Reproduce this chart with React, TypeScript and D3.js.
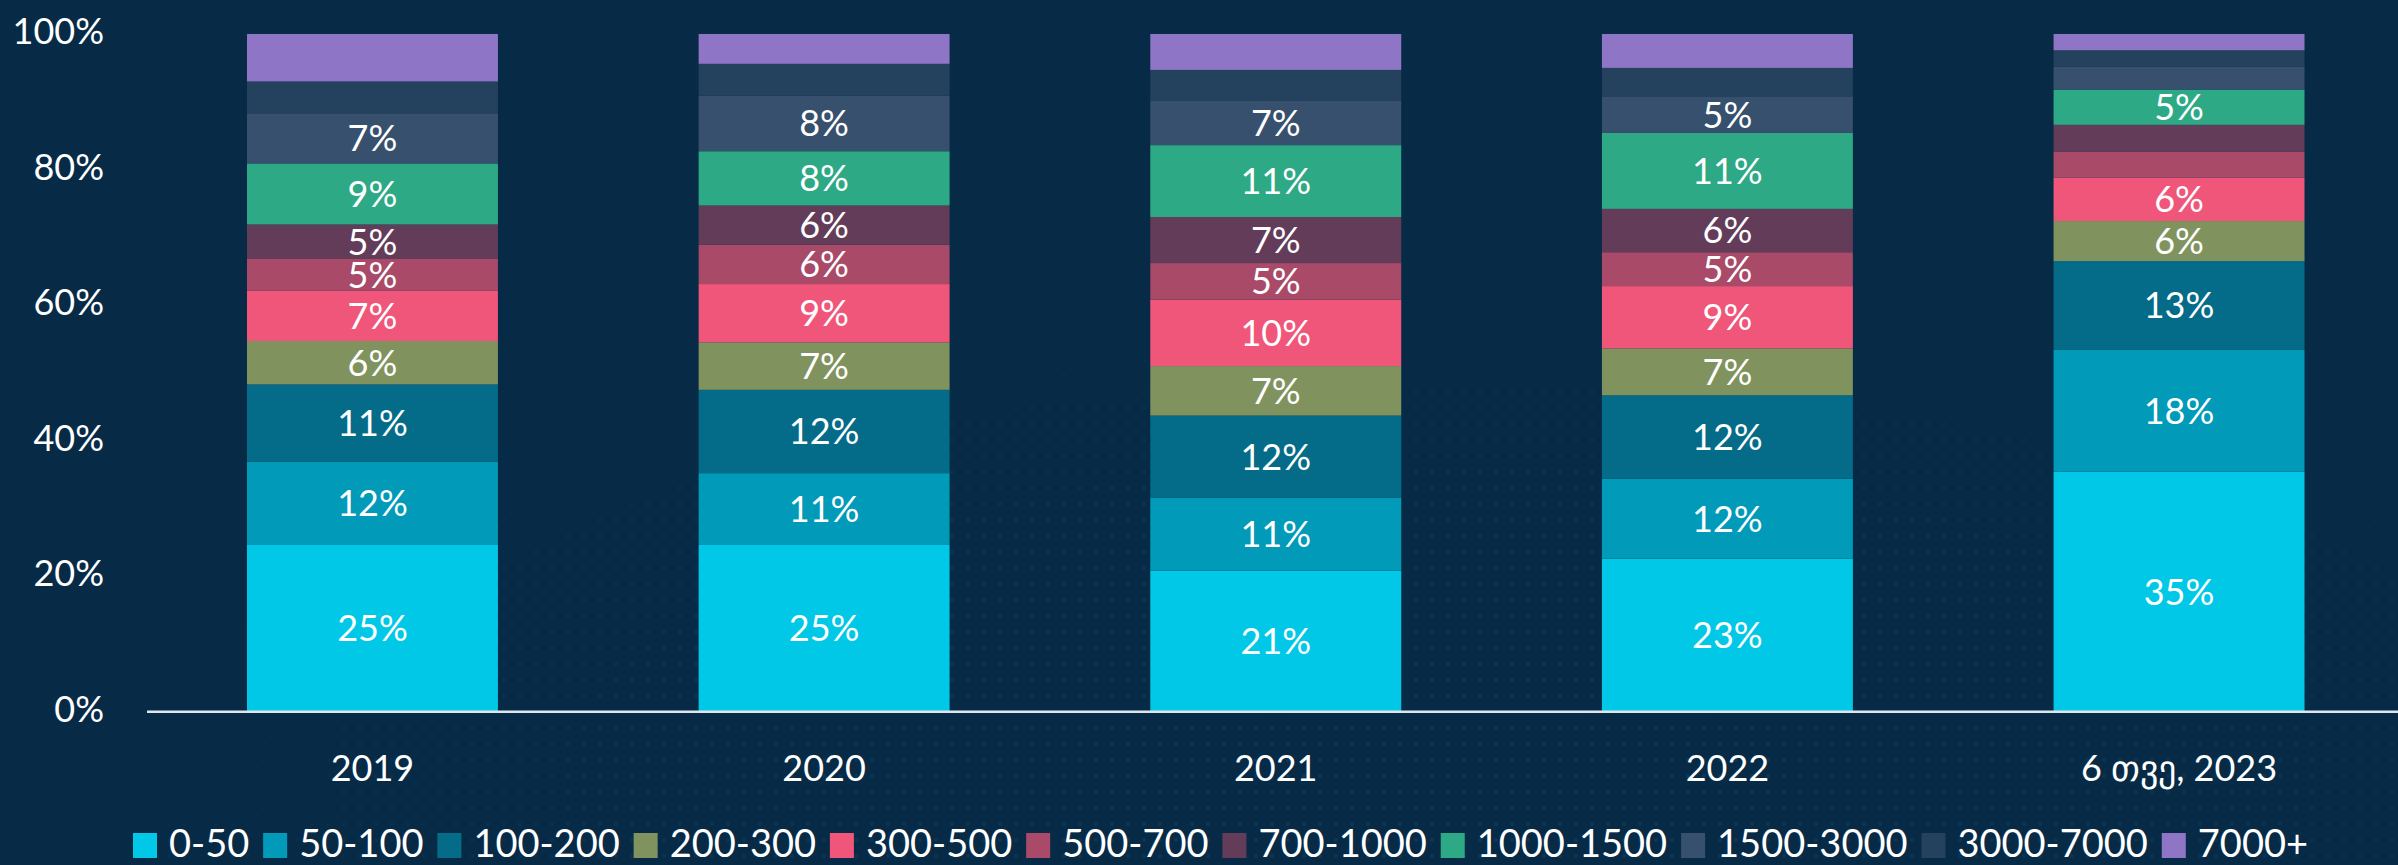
import React, { useEffect, useRef } from "react";
import * as d3 from "d3";

const W = 2398;
const H = 865;

const categories = ["2019", "2020", "2021", "2022", "6 თვე, 2023"];
const seriesNames = [
  "0-50", "50-100", "100-200", "200-300", "300-500", "500-700",
  "700-1000", "1000-1500", "1500-3000", "3000-7000", "7000+",
];
const seriesColors = [
  "#02c8e7", "#019ab8", "#046c88", "#80935f", "#f0567a", "#a84a68",
  "#633c5a", "#2ea985", "#37506d", "#24415e", "#8e75c6",
];

const values2019 = [24.6, 12.3, 11.4, 6.4, 7.4, 4.7, 5.1, 9.0, 7.4, 4.7, 7.0];
const values2020 = [24.6, 10.6, 12.3, 7.0, 8.6, 5.8, 5.8, 8.0, 8.2, 4.7, 4.4];
const values2021 = [20.8, 10.8, 12.1, 7.3, 9.8, 5.4, 6.8, 10.6, 6.6, 4.5, 5.3];
const values2022 = [22.6, 11.8, 12.3, 6.9, 9.2, 5.0, 6.4, 11.2, 5.4, 4.2, 5.0];
const values2023 = [35.4, 18.0, 13.1, 5.9, 6.4, 3.8, 4.0, 5.2, 3.4, 2.4, 2.4];

const yTicks = [0, 20, 40, 60, 80, 100];
const unlabeledSeries = ["3000-7000", "7000+"];
const labelThreshold = 4.5;

const FONT = "Lato, 'Open Sans', sans-serif";
const WEIGHT = 400;

export default function App() {
  const ref = useRef<SVGSVGElement | null>(null);

  useEffect(() => {
    const svg = d3.select(ref.current);
    svg.selectAll("*").remove();

    const allValues = [values2019, values2020, values2021, values2022, values2023];
    const table = categories.map((c, i) => {
      const row: any = { category: c };
      seriesNames.forEach((s, j) => (row[s] = allValues[i][j]));
      return row;
    });

    const stack = d3.stack<any>().keys(seriesNames);
    const stacked = stack(table);

    const x = d3
      .scaleBand<string>()
      .domain(categories)
      .range([146.5, 2405])
      .paddingInner(0.4444)
      .paddingOuter(0.2225);
    const y = d3.scaleLinear().domain([0, 100]).range([711.7, 34]);
    const color = d3.scaleOrdinal<string, string>().domain(seriesNames).range(seriesColors);

    // background
    const defs = svg.append("defs");
    const pat = defs
      .append("pattern")
      .attr("id", "dots")
      .attr("width", 16)
      .attr("height", 16)
      .attr("patternUnits", "userSpaceOnUse");
    pat.append("circle").attr("cx", 8).attr("cy", 8).attr("r", 2).attr("fill", "#1b4d6c");
    const rg = defs
      .append("radialGradient")
      .attr("id", "fade")
      .attr("cx", "60%")
      .attr("cy", "90%")
      .attr("r", "65%");
    rg.append("stop").attr("offset", "0%").attr("stop-color", "#fff").attr("stop-opacity", 0.4);
    rg.append("stop").attr("offset", "100%").attr("stop-color", "#fff").attr("stop-opacity", 0.05);
    const mask = defs.append("mask").attr("id", "dotmask");
    mask.append("rect").attr("width", W).attr("height", H).attr("fill", "url(#fade)");

    svg.append("rect").attr("width", W).attr("height", H).attr("fill", "#072b47");
    svg
      .append("rect")
      .attr("width", W)
      .attr("height", H)
      .attr("fill", "url(#dots)")
      .attr("mask", "url(#dotmask)");

    // bars
    const layers = svg
      .append("g")
      .selectAll("g")
      .data(stacked)
      .join("g")
      .attr("fill", (d) => color(d.key));
    layers
      .selectAll("rect")
      .data((d) => d)
      .join("rect")
      .attr("x", (d: any) => x(d.data.category)!)
      .attr("width", x.bandwidth())
      .attr("y", (d) => y(d[1]))
      .attr("height", (d) => y(d[0]) - y(d[1]));

    // bar labels
    const labelG = svg
      .append("g")
      .attr("font-family", FONT)
      .attr("font-weight", WEIGHT)
      .attr("font-size", 36)
      .attr("fill", "#fff");
    stacked.forEach((layer) => {
      if (unlabeledSeries.includes(layer.key)) return;
      layer.forEach((d: any) => {
        const v = d[1] - d[0];
        if (v < labelThreshold) return;
        labelG
          .append("text")
          .attr("x", x(d.data.category)! + x.bandwidth() / 2)
          .attr("y", y((d[0] + d[1]) / 2))
          .attr("dy", "0.36em")
          .attr("text-anchor", "middle")
          .text(`${Math.round(v)}%`);
      });
    });

    // baseline
    svg
      .append("line")
      .attr("x1", 147)
      .attr("x2", W)
      .attr("y1", y(0))
      .attr("y2", y(0))
      .attr("stroke", "#dfe5ec")
      .attr("stroke-width", 2.5);

    // y axis labels
    const yG = svg
      .append("g")
      .attr("font-family", FONT)
      .attr("font-weight", WEIGHT)
      .attr("font-size", 36)
      .attr("fill", "#fff");
    yG.selectAll("text")
      .data(yTicks)
      .join("text")
      .attr("x", 104)
      .attr("y", (d) => y(d) - 3)
      .attr("dy", "0.36em")
      .attr("text-anchor", "end")
      .text((d) => `${d}%`);

    // x axis labels
    const xG = svg
      .append("g")
      .attr("font-family", FONT)
      .attr("font-weight", WEIGHT)
      .attr("font-size", 36)
      .attr("fill", "#fff");
    xG.selectAll("text")
      .data(categories)
      .join("text")
      .attr("x", (d) => x(d)! + x.bandwidth() / 2)
      .attr("y", 781)
      .attr("text-anchor", "middle")
      .text((d) => d);

    // legend
    const legendStart = 133;
    const legendEnd = 2308;
    const sq = 24;
    const textGap = 12;
    const lg = svg
      .append("g")
      .attr("font-family", FONT)
      .attr("font-weight", WEIGHT)
      .attr("font-size", 38)
      .attr("fill", "#fff");
    const texts = seriesNames.map((s) => lg.append("text").attr("y", 857).text(s));
    const widths = texts.map((t) => (t.node() as SVGTextElement).getComputedTextLength());
    const totalContent = d3.sum(widths) + seriesNames.length * (sq + textGap);
    const itemGap = (legendEnd - legendStart - totalContent) / (seriesNames.length - 1);
    let cx = legendStart;
    seriesNames.forEach((s, i) => {
      lg.append("rect")
        .attr("x", cx)
        .attr("y", 833)
        .attr("width", sq)
        .attr("height", 25)
        .attr("fill", color(s));
      texts[i].attr("x", cx + sq + textGap);
      cx += sq + textGap + widths[i] + itemGap;
    });
  }, []);

  return (
    <svg
      ref={ref}
      width={W}
      height={H}
      style={{ position: "absolute", left: 0, top: 0, display: "block" }}
    />
  );
}
